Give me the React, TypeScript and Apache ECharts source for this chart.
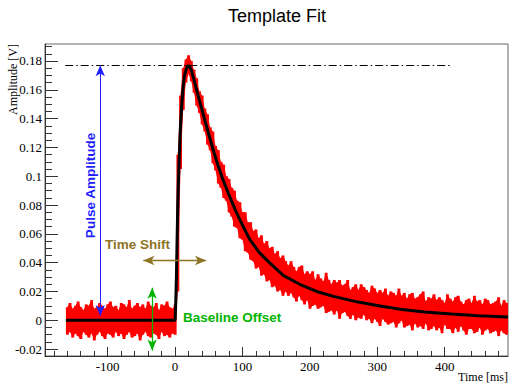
import React, { useEffect, useRef } from "react";
import * as echarts from "echarts";

// Fit (black line): time [ms] and amplitude [V]
const fitT = [-162, 0, 1, 2, 3, 4, 5, 6, 8, 10, 12, 14, 17, 20, 24, 28, 33, 40, 47, 55, 62, 70, 80, 90, 100, 111, 125, 140, 161, 185, 210, 235, 270, 300, 334, 370, 410, 450, 494];
const fitV = [0, 0, 0.012, 0.03, 0.056, 0.08, 0.097, 0.11, 0.135, 0.15, 0.162, 0.17, 0.175, 0.177, 0.174, 0.167, 0.158, 0.146, 0.134, 0.121, 0.11, 0.099, 0.087, 0.076, 0.066, 0.056, 0.047, 0.04, 0.031, 0.025, 0.02, 0.0166, 0.0128, 0.0102, 0.0076, 0.0058, 0.0043, 0.0032, 0.0022];

// Measured data (red): envelope per 4 ms bin, in mV, first bin starting at -162 ms
const redStart = -162;
const redStep = 4;
const redHi = [
  9, 12, 8, 10, 13, 9, 7, 11, 10, 14, 8, 9, 12, 10, 8, 11, 13, 9, 10, 7, 12, 11, 9, 14, 8, 10, 12, 9, 11, 8, 13, 10, 9, 12, 7, 11, 10, 13, 9, 8, 11,
  115, 156, 175, 181, 184, 180, 174,
  168, 159, 156, 147, 143, 134, 131, 121, 118, 110, 108, 100, 98, 92, 90, 83, 82, 75, 75, 68, 68, 62, 63, 57, 59, 53, 55, 50, 51, 46, 48, 43, 45,
  41, 38, 41, 37, 34, 37, 38, 32, 34, 32, 34, 28, 32, 29, 27, 33, 28, 25, 28, 26, 28, 24, 25, 28, 21, 23, 25, 21, 25, 23,
  21, 19, 24, 22, 19, 21, 19, 22, 17, 20, 19, 17, 22, 17, 19, 15, 18, 19, 15, 16, 18, 20, 13, 16, 15, 18, 14, 16, 14, 12,
  18, 15, 13, 16, 17, 13, 11, 14, 15, 12, 17, 13, 14, 11, 15, 14, 11, 12, 13, 16, 10, 14, 12,
];
const redLo = [
  -10, -8, -12, -9, -11, -13, -8, -10, -12, -9, -14, -10, -8, -11, -13, -9, -10, -12, -8, -11, -9, -13, -10, -8, -12, -11, -9, -14, -10, -8, -11, -12, -9, -10, -13, -8, -11, -10, -12, -9, -10,
  20, 105, 146, 165, 171, 166, 158,
  149, 144, 136, 131, 122, 118, 109, 104, 95, 92, 85, 83, 75, 72, 65, 64, 57, 56, 48, 47, 42, 41, 36, 37, 31, 32, 27, 28, 23, 24, 20, 21, 17,
  20, 17, 19, 16, 13, 17, 14, 11, 14, 8, 10, 11, 8, 9, 10, 5, 6, 7, 4, 7, 1, 5, 6, 3, 1, 4, 0, 2, 1, 4,
  0, 1, -2, 1, -1, -4, 1, -1, -3, -2, -1, -5, -2, 0, -5, -4, -3, -7, -2, -5, -4, -6, -2, -7, -6, -4, -7, -5, -9, -3,
  -6, -6, -9, -5, -8, -4, -7, -10, -6, -6, -9, -8, -5, -10, -7, -6, -9, -8, -7, -11, -7, -9, -10,
];

// Annotations (data coordinates)
const amplitudeLevel = 0.177;
const amplitudeLineX = [-163, 410];
const pulseArrow = { x: -111, from: 0.003, to: 0.177 };
const shiftArrow = { y: 0.0415, from: -47, to: 46 };
const baselineArrow = { x: -34, from: 0.0226, to: -0.021 };

// Axis ticks
const xMajor = [-100, 0, 100, 200, 300, 400];
const xMinor = [-180, -160, -140, -120, -80, -60, -40, -20, 20, 40, 60, 80, 120, 140, 160, 180, 220, 240, 260, 280, 320, 340, 360, 380, 420, 440, 460, 480];
const yMajor = [-0.02, 0, 0.02, 0.04, 0.06, 0.08, 0.1, 0.12, 0.14, 0.16, 0.18];
const yMinor = [-0.015, -0.01, -0.005, 0.005, 0.01, 0.015, 0.025, 0.03, 0.035, 0.045, 0.05, 0.055, 0.065, 0.07, 0.075, 0.085, 0.09, 0.095, 0.105, 0.11, 0.115, 0.125, 0.13, 0.135, 0.145, 0.15, 0.155, 0.165, 0.17, 0.175, 0.185, 0.19];

const X_MIN = -193;
const X_MAX = 494;
const Y_MIN = -0.0248;
const Y_MAX = 0.1918;

const BLUE = "#1f1fff";
const BROWN = "#8f7424";
const GREEN = "#00b400";
const SERIF = '"Liberation Serif", "Times New Roman", serif';
const SANS = '"Liberation Sans", Arial, sans-serif';

export default function App() {
  const ref = useRef<HTMLDivElement>(null);

  useEffect(() => {
    if (!ref.current) return;
    const chart = echarts.init(ref.current, undefined, { renderer: "svg" });

    // each item: one bin (rect) plus the band piece joining it to the next bin
    const n = redHi.length;
    const redData = redHi.map((h, i) => {
      const t0 = redStart + i * redStep;
      const j = Math.min(i + 1, n - 1);
      return [t0, redLo[i] / 1000, h / 1000, redLo[j] / 1000, redHi[j] / 1000];
    });
    const fitData = fitT.map((t, i) => [t, fitV[i]]);

    const axisCommon = {
      type: "value",
      splitLine: { show: false },
    };

    const option: any = {
      animation: false,
      grid: {
        left: 45,
        right: 3,
        top: 44,
        bottom: 28,
        show: true,
        borderColor: "#666",
        borderWidth: 1,
        containLabel: false,
      },
      xAxis: [
        {
          ...axisCommon,
          min: X_MIN,
          max: X_MAX,
          position: "bottom",
          axisLine: { show: true, onZero: false, lineStyle: { color: "#333", width: 1 } },
          axisTick: { show: true, inside: true, length: 9, customValues: xMajor, lineStyle: { color: "#333" } },
          axisLabel: {
            customValues: xMajor,
            color: "#000",
            fontFamily: SERIF,
            fontSize: 13,
            margin: 4,
            formatter: (v: number) => String(v),
          },
        },
        {
          ...axisCommon,
          min: X_MIN,
          max: X_MAX,
          position: "bottom",
          axisLine: { show: false, onZero: false },
          axisTick: { show: true, inside: true, length: 5, customValues: xMinor, lineStyle: { color: "#333" } },
          axisLabel: { show: false },
        },
      ],
      yAxis: [
        {
          ...axisCommon,
          min: Y_MIN,
          max: Y_MAX,
          position: "left",
          axisLine: { show: true, onZero: false, lineStyle: { color: "#333", width: 1 } },
          axisTick: { show: true, inside: true, length: 13, customValues: yMajor, lineStyle: { color: "#333" } },
          axisLabel: {
            customValues: yMajor,
            color: "#000",
            fontFamily: SERIF,
            fontSize: 13,
            margin: 3,
            formatter: (v: number) => String(parseFloat(v.toFixed(3))),
          },
        },
        {
          ...axisCommon,
          min: Y_MIN,
          max: Y_MAX,
          position: "left",
          axisLine: { show: false, onZero: false },
          axisTick: { show: true, inside: true, length: 7, customValues: yMinor, lineStyle: { color: "#333" } },
          axisLabel: { show: false },
        },
      ],
      series: [
        {
          type: "custom",
          name: "data",
          xAxisIndex: 0,
          yAxisIndex: 0,
          clip: true,
          encode: { x: 0, y: [1, 2] },
          data: redData,
          renderItem: (params: any, api: any) => {
            const t0 = api.value(0);
            const c0 = t0 + redStep / 2;
            const c1 = c0 + redStep;
            const top = api.coord([t0, api.value(2)]);
            const bot = api.coord([t0 + redStep, api.value(1)]);
            const children: any[] = [
              {
                type: "rect",
                shape: { x: top[0], y: top[1], width: bot[0] - top[0] + 0.2, height: bot[1] - top[1] },
                style: { fill: "#ff0000" },
              },
            ];
            if (params.dataIndex < redHi.length - 1) {
              children.push({
                type: "polygon",
                shape: {
                  points: [
                    api.coord([c0, api.value(2)]),
                    api.coord([c1, api.value(4)]),
                    api.coord([c1, api.value(3)]),
                    api.coord([c0, api.value(1)]),
                  ],
                },
                style: { fill: "#ff0000" },
              });
            }
            return { type: "group", children };
          },
          z: 1,
        },
        {
          type: "line",
          name: "fit",
          xAxisIndex: 0,
          yAxisIndex: 0,
          data: fitData,
          symbol: "none",
          lineStyle: { color: "#000", width: 3 },
          z: 2,
        },
        {
          type: "line",
          name: "annotations",
          xAxisIndex: 0,
          yAxisIndex: 0,
          data: [],
          z: 3,
          markLine: {
            silent: true,
            animation: false,
            symbol: ["arrow", "arrow"],
            symbolSize: [7, 11],
            label: { show: false },
            data: [
              [
                { coord: [amplitudeLineX[0], amplitudeLevel], symbol: "none", lineStyle: { color: "#000", width: 1, type: [8, 3, 1.5, 3] } },
                { coord: [amplitudeLineX[1], amplitudeLevel], symbol: "none" },
              ],
              [
                { coord: [pulseArrow.x, pulseArrow.from], lineStyle: { color: BLUE, width: 1, type: "solid" }, itemStyle: { color: BLUE } },
                { coord: [pulseArrow.x, pulseArrow.to] },
              ],
              [
                { coord: [shiftArrow.from, shiftArrow.y], lineStyle: { color: BROWN, width: 1.3, type: "solid" }, itemStyle: { color: BROWN } },
                { coord: [shiftArrow.to, shiftArrow.y] },
              ],
              [
                { coord: [baselineArrow.x, baselineArrow.from], lineStyle: { color: GREEN, width: 1.3, type: "solid" }, itemStyle: { color: GREEN } },
                { coord: [baselineArrow.x, baselineArrow.to] },
              ],
            ],
          },
        },
      ],
      graphic: [
        {
          type: "text",
          x: 277,
          y: 16,
          style: { text: "Template Fit", fill: "#000", font: `18px ${SANS}`, textAlign: "center", textVerticalAlign: "middle" },
        },
        {
          type: "text",
          x: 508,
          y: 376.5,
          style: { text: "Time [ms]", fill: "#000", font: `12px ${SERIF}`, textAlign: "right", textVerticalAlign: "middle" },
        },
        {
          type: "text",
          x: 13,
          y: 44,
          rotation: Math.PI / 2,
          style: { text: "Amplitude [V]", fill: "#000", font: `12px ${SERIF}`, textAlign: "right", textVerticalAlign: "middle" },
        },
        {
          type: "text",
          x: 90,
          y: 185.5,
          rotation: Math.PI / 2,
          z: 10,
          style: { text: "Pulse Amplitude", fill: BLUE, font: `bold 13.5px ${SANS}`, textAlign: "center", textVerticalAlign: "middle" },
        },
        {
          type: "text",
          x: 105,
          y: 244,
          z: 10,
          style: { text: "Time Shift", fill: BROWN, font: `bold 13.5px ${SANS}`, textAlign: "left", textVerticalAlign: "middle" },
        },
        {
          type: "text",
          x: 183,
          y: 317,
          z: 10,
          style: { text: "Baseline Offset", fill: GREEN, font: `bold 13.5px ${SANS}`, textAlign: "left", textVerticalAlign: "middle" },
        },
      ],
    };

    chart.setOption(option);
    return () => chart.dispose();
  }, []);

  return <div ref={ref} style={{ position: "fixed", left: 0, top: 0, width: 511, height: 384, background: "#fff" }} />;
}
